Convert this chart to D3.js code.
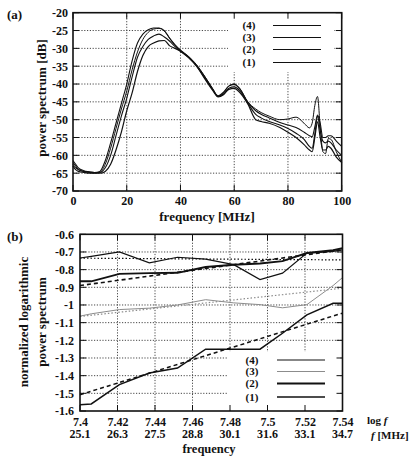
<!doctype html>
<html>
<head>
<meta charset="utf-8">
<script src="https://cdnjs.cloudflare.com/ajax/libs/d3/7.8.5/d3.min.js"></script>
<style>
  body { margin: 0; background: #fff; }
  svg { display: block; background: #fff; }
  text { font-family: "Liberation Serif", "DejaVu Serif", serif; font-weight: bold; fill: #111; }
</style>
<title>power spectrum</title>
</head>
<body>
<svg width="419" height="458"></svg>
<script>
// ---- panel (a): power spectrum [dB] vs frequency [MHz]
var freqA = [0, 1, 2, 4, 6, 8, 10, 12, 14, 16, 18, 20, 22, 24, 26, 28, 30, 32, 34, 36, 38, 40, 43, 46, 49,
  52, 54, 56, 58, 60, 62, 65, 68, 70, 73, 77, 80, 83, 86, 88, 89, 90, 91, 92, 93, 94, 95, 96, 98, 100];
var specA4 = [-61.5, -62.5, -63.5, -64.3, -64.6, -64.8, -64.5, -61.5, -56.5, -51, -45.5, -40, -33.5, -28.5, -26, -24.8, -24.3, -24.3, -25, -27.2,
  -29, -30.5, -32.3, -34.8, -38, -41.5, -43.3, -42.3, -40.6, -40.1, -41.3, -45, -47.5, -48.5, -49.5, -50.8, -51.5, -52.2, -53.5, -54.5,
  -54.8, -52, -48.7, -51, -55, -55, -54.5, -54.5, -56, -57.5];
var specA3 = [-62.5, -63.5, -64, -64.5, -64.8, -65, -64.8, -62.5, -58, -52.5, -47, -42, -36, -31, -27.5, -25.5, -24.6, -24.4, -25.2, -27.2,
  -29.2, -30.6, -32.3, -34.6, -37.8, -41.3, -43.5, -42.5, -40.5, -40, -41.2, -45, -47, -48, -49, -50, -49.8, -49.3, -51, -52.3,
  -51, -46, -43.5, -52, -59, -59.5, -55.3, -55.5, -59, -62];
var specA2 = [-62, -63, -64, -64.5, -64.7, -64.8, -64.8, -63.5, -60, -54.5, -49, -44, -38, -32.5, -29.5, -27.5, -26.5, -26, -26.8, -28,
  -29.5, -30.8, -32.5, -35, -38.2, -41.5, -43.5, -42.8, -41.2, -40.8, -41.8, -45.3, -48.5, -49.5, -50.5, -51.5, -52.5, -53.8, -55.5, -57.5,
  -58, -54, -49, -53, -56, -56.5, -56, -56.5, -58.5, -60];
var specA1 = [-63, -64, -64.5, -64.8, -65, -65, -65, -64.5, -62.5, -58.5, -53.5, -47.5, -42.5, -36.5, -32, -29.5, -28.5, -27.9, -27.8, -29.3,
  -30, -30.8, -32.6, -35, -38.5, -41.8, -43.6, -43, -41.5, -41.2, -42.3, -45.5, -50, -50.5, -51, -52.2, -53.5, -55, -57, -58.5,
  -59, -55, -50.6, -55, -58.5, -58.5, -57.5, -58, -60.5, -62];
var ticksXA = [0, 20, 40, 60, 80, 100];
var ticksYA = [-70, -65, -60, -55, -50, -45, -40, -35, -30, -25, -20];
var labelsYA = ["-70", "-65", "-60", "-55", "-50", "-45", "-40", "-35", "-30", "-25", "-20"];

// ---- panel (b): normalized logarithmic power spectrum vs log f
var logF = [7.4, 7.406, 7.421, 7.437, 7.452, 7.467, 7.482, 7.496, 7.508, 7.521, 7.535, 7.54];
var normB4 = [-0.734, -0.725, -0.70, -0.762, -0.73, -0.74, -0.772, -0.856, -0.82, -0.706, -0.697, -0.688];
var normB3 = [-1.063, -1.05, -1.026, -1.018, -1.0, -0.97, -0.988, -0.998, -1.016, -0.998, -0.89, -0.845];
var normB2 = [-0.866, -0.866, -0.824, -0.82, -0.818, -0.785, -0.772, -0.765, -0.752, -0.706, -0.69, -0.678];
var normB1 = [-1.564, -1.56, -1.451, -1.385, -1.357, -1.25, -1.25, -1.25, -1.16, -1.056, -0.99, -0.99];
var fitEnds = [7.4, 7.54];
var fitB4 = [-0.735, -0.745];
var fitB3 = [-1.065, -0.905];
var fitB2 = [-0.89, -0.688];
var fitB1 = [-1.508, -1.046];
var ticksXB = [7.4, 7.42, 7.44, 7.46, 7.48, 7.5, 7.52, 7.54];
var labelsXB = ["7.4", "7.42", "7.44", "7.46", "7.48", "7.5", "7.52", "7.54"];
var freqLabelsXB = ["25.1", "26.3", "27.5", "28.8", "30.1", "31.6", "33.1", "34.7"];
var ticksYB = [-1.6, -1.5, -1.4, -1.3, -1.2, -1.1, -1, -0.9, -0.8, -0.7, -0.6];
var labelsYB = ["-1.6", "-1.5", "-1.4", "-1.3", "-1.2", "-1.1", "-1", "-0.9", "-0.8", "-0.7", "-0.6"];
var legendNames = ["(4)", "(3)", "(2)", "(1)"];

var svg = d3.select("svg");
var ink = "#111";

function pairs(xs, ys) { return xs.map(function (x, i) { return [x, ys[i]]; }); }

function gridAndFrame(g, x, y, xt, yt, box) {
  // dotted grid, legend box blanks part of it
  g.selectAll(".gx").data(xt.slice(1, -1)).enter().append("line")
    .attr("x1", x).attr("x2", x).attr("y1", y.range()[1]).attr("y2", y.range()[0])
    .attr("stroke", "#333").attr("stroke-width", 0.9).attr("stroke-dasharray", "1.2,1.6");
  g.selectAll(".gy").data(yt.slice(1, -1)).enter().append("line")
    .attr("y1", y).attr("y2", y).attr("x1", x.range()[0]).attr("x2", x.range()[1])
    .attr("stroke", "#333").attr("stroke-width", 0.9).attr("stroke-dasharray", "1.2,1.6");
  g.append("rect").attr("x", box[0]).attr("y", box[1]).attr("width", box[2]).attr("height", box[3])
    .attr("fill", "#fff");
  // mirrored inward ticks
  var x0 = x.range()[0], x1 = x.range()[1], y0 = y.range()[0], y1 = y.range()[1];
  g.selectAll(".ty").data(yt).enter().append("path")
    .attr("d", function (d) { return "M" + x0 + "," + y(d) + "h6M" + x1 + "," + y(d) + "h-6"; })
    .attr("stroke", ink).attr("stroke-width", 1);
  g.selectAll(".tx").data(xt).enter().append("path")
    .attr("d", function (d) { return "M" + x(d) + "," + y0 + "v-6M" + x(d) + "," + y1 + "v6"; })
    .attr("stroke", ink).attr("stroke-width", 1);
}

function frame(g, x, y) {
  g.append("rect").attr("x", x.range()[0]).attr("y", y.range()[1])
    .attr("width", x.range()[1] - x.range()[0]).attr("height", y.range()[0] - y.range()[1])
    .attr("fill", "none").attr("stroke", ink).attr("stroke-width", 1.6);
}

// ================= (a)
var xA = d3.scaleLinear().domain([0, 100]).range([73, 341.7]);
var yA = d3.scaleLinear().domain([-70, -20]).range([191, 12.7]);
var gA = svg.append("g");
gridAndFrame(gA, xA, yA, ticksXA, ticksYA, [228, 14, 106, 58]);

var lineA = d3.line().x(function (d) { return xA(d[0]); }).y(function (d) { return yA(d[1]); })
  .curve(d3.curveMonotoneX);
[specA1, specA2, specA3, specA4].forEach(function (s, i) {
  gA.append("path").datum(pairs(freqA, s)).attr("d", lineA)
    .attr("fill", "none").attr("stroke", ink).attr("stroke-width", [1.2, 1.1, 1.0, 1.1][i]);
});
frame(gA, xA, yA);

gA.append("g").attr("transform", "translate(0,191)")
  .call(d3.axisBottom(xA).tickValues(ticksXA).tickSize(0).tickPadding(5).tickFormat(d3.format("d")))
  .call(function (a) { a.select(".domain").remove(); })
  .selectAll("text").style("font-size", "12px").attr("fill", ink);
gA.append("g").attr("transform", "translate(73,0)")
  .call(d3.axisLeft(yA).tickValues(ticksYA).tickSize(0).tickPadding(5)
    .tickFormat(function (d, i) { return labelsYA[i]; }))
  .call(function (a) { a.select(".domain").remove(); })
  .selectAll("text").style("font-size", "12px").attr("fill", ink);

// legend (a)
var legA = [25.5, 37.5, 49.5, 62.5];
legendNames.forEach(function (n, i) {
  gA.append("text").attr("x", 249).attr("y", legA[i] + 3.8).attr("text-anchor", "middle")
    .style("font-size", "11px").text(n);
  gA.append("line").attr("x1", 273).attr("x2", 321).attr("y1", legA[i]).attr("y2", legA[i])
    .attr("stroke", ink).attr("stroke-width", 1.2);
});

svg.append("text").attr("x", 7).attr("y", 19).style("font-size", "13px").text("(a)");
svg.append("text").attr("transform", "translate(46,98) rotate(-90)").attr("text-anchor", "middle")
  .style("font-size", "13px").text("power spectrum [dB]");
svg.append("text").attr("x", 207).attr("y", 221).attr("text-anchor", "middle")
  .style("font-size", "13px").text("frequency [MHz]");

// ================= (b)
var xB = d3.scaleLinear().domain([7.4, 7.54]).range([80, 342.5]);
var yB = d3.scaleLinear().domain([-1.6, -0.6]).range([411, 234.3]);
var gB = svg.append("g");
gridAndFrame(gB, xB, yB, ticksXB, ticksYB, [228, 352, 112, 57]);

var lineB = d3.line().x(function (d) { return xB(d[0]); }).y(function (d) { return yB(d[1]); });
var gray = "#8c8c8c";
var styleB = [
  { data: normB4, fit: fitB4, color: ink, w: 1.2, fw: 1.2, dash: "1.5,2" },
  { data: normB3, fit: fitB3, color: gray, w: 1.0, fw: 1.2, dash: "1.5,2" },
  { data: normB2, fit: fitB2, color: ink, w: 1.9, fw: 1.6, dash: "4,3" },
  { data: normB1, fit: fitB1, color: ink, w: 1.5, fw: 1.5, dash: "4,3" }
];
styleB.forEach(function (s) {
  gB.append("path").datum(pairs(fitEnds, s.fit)).attr("d", lineB)
    .attr("fill", "none").attr("stroke", s.color).attr("stroke-width", s.fw)
    .attr("stroke-dasharray", s.dash);
  gB.append("path").datum(pairs(logF, s.data)).attr("d", lineB)
    .attr("fill", "none").attr("stroke", s.color).attr("stroke-width", s.w);
});
frame(gB, xB, yB);

gB.append("g").attr("transform", "translate(0,411)")
  .call(d3.axisBottom(xB).tickValues(ticksXB).tickSize(0).tickPadding(6)
    .tickFormat(function (d, i) { return labelsXB[i]; }))
  .call(function (a) { a.select(".domain").remove(); })
  .selectAll("text").style("font-size", "12px").attr("fill", ink);
gB.selectAll(".fl").data(ticksXB).enter().append("text")
  .attr("x", function (d) { return xB(d); }).attr("y", 438).attr("text-anchor", "middle")
  .style("font-size", "12px").text(function (d, i) { return freqLabelsXB[i]; });
gB.append("g").attr("transform", "translate(80,0)")
  .call(d3.axisLeft(yB).tickValues(ticksYB).tickSize(0).tickPadding(6)
    .tickFormat(function (d, i) { return labelsYB[i]; }))
  .call(function (a) { a.select(".domain").remove(); })
  .selectAll("text").style("font-size", "12px").attr("fill", ink);

// legend (b)
var legB = [360, 371.5, 383.5, 397];
legendNames.forEach(function (n, i) {
  gB.append("text").attr("x", 252).attr("y", legB[i] + 3.8).attr("text-anchor", "middle")
    .style("font-size", "11px").text(n);
  gB.append("line").attr("x1", 277).attr("x2", 325).attr("y1", legB[i]).attr("y2", legB[i])
    .attr("stroke", styleB[i].color).attr("stroke-width", styleB[i].w);
});

svg.append("text").attr("x", 7).attr("y", 241).style("font-size", "13px").text("(b)");
svg.append("text").attr("transform", "translate(28,322) rotate(-90)").attr("text-anchor", "middle")
  .style("font-size", "13px").text("normalized logarithmic");
svg.append("text").attr("transform", "translate(46,322) rotate(-90)").attr("text-anchor", "middle")
  .style("font-size", "13px").text("power spectrum");

var logLab = svg.append("text").attr("x", 367).attr("y", 424).style("font-size", "11px");
logLab.append("tspan").text("log  ");
logLab.append("tspan").style("font-style", "italic").text("f");
var fLab = svg.append("text").attr("x", 371).attr("y", 439).style("font-size", "11px");
fLab.append("tspan").style("font-style", "italic").text("f");
fLab.append("tspan").text("  [MHz]");
svg.append("text").attr("x", 209).attr("y", 453).attr("text-anchor", "middle")
  .style("font-size", "12.5px").text("frequency");
</script>
</body>
</html>
